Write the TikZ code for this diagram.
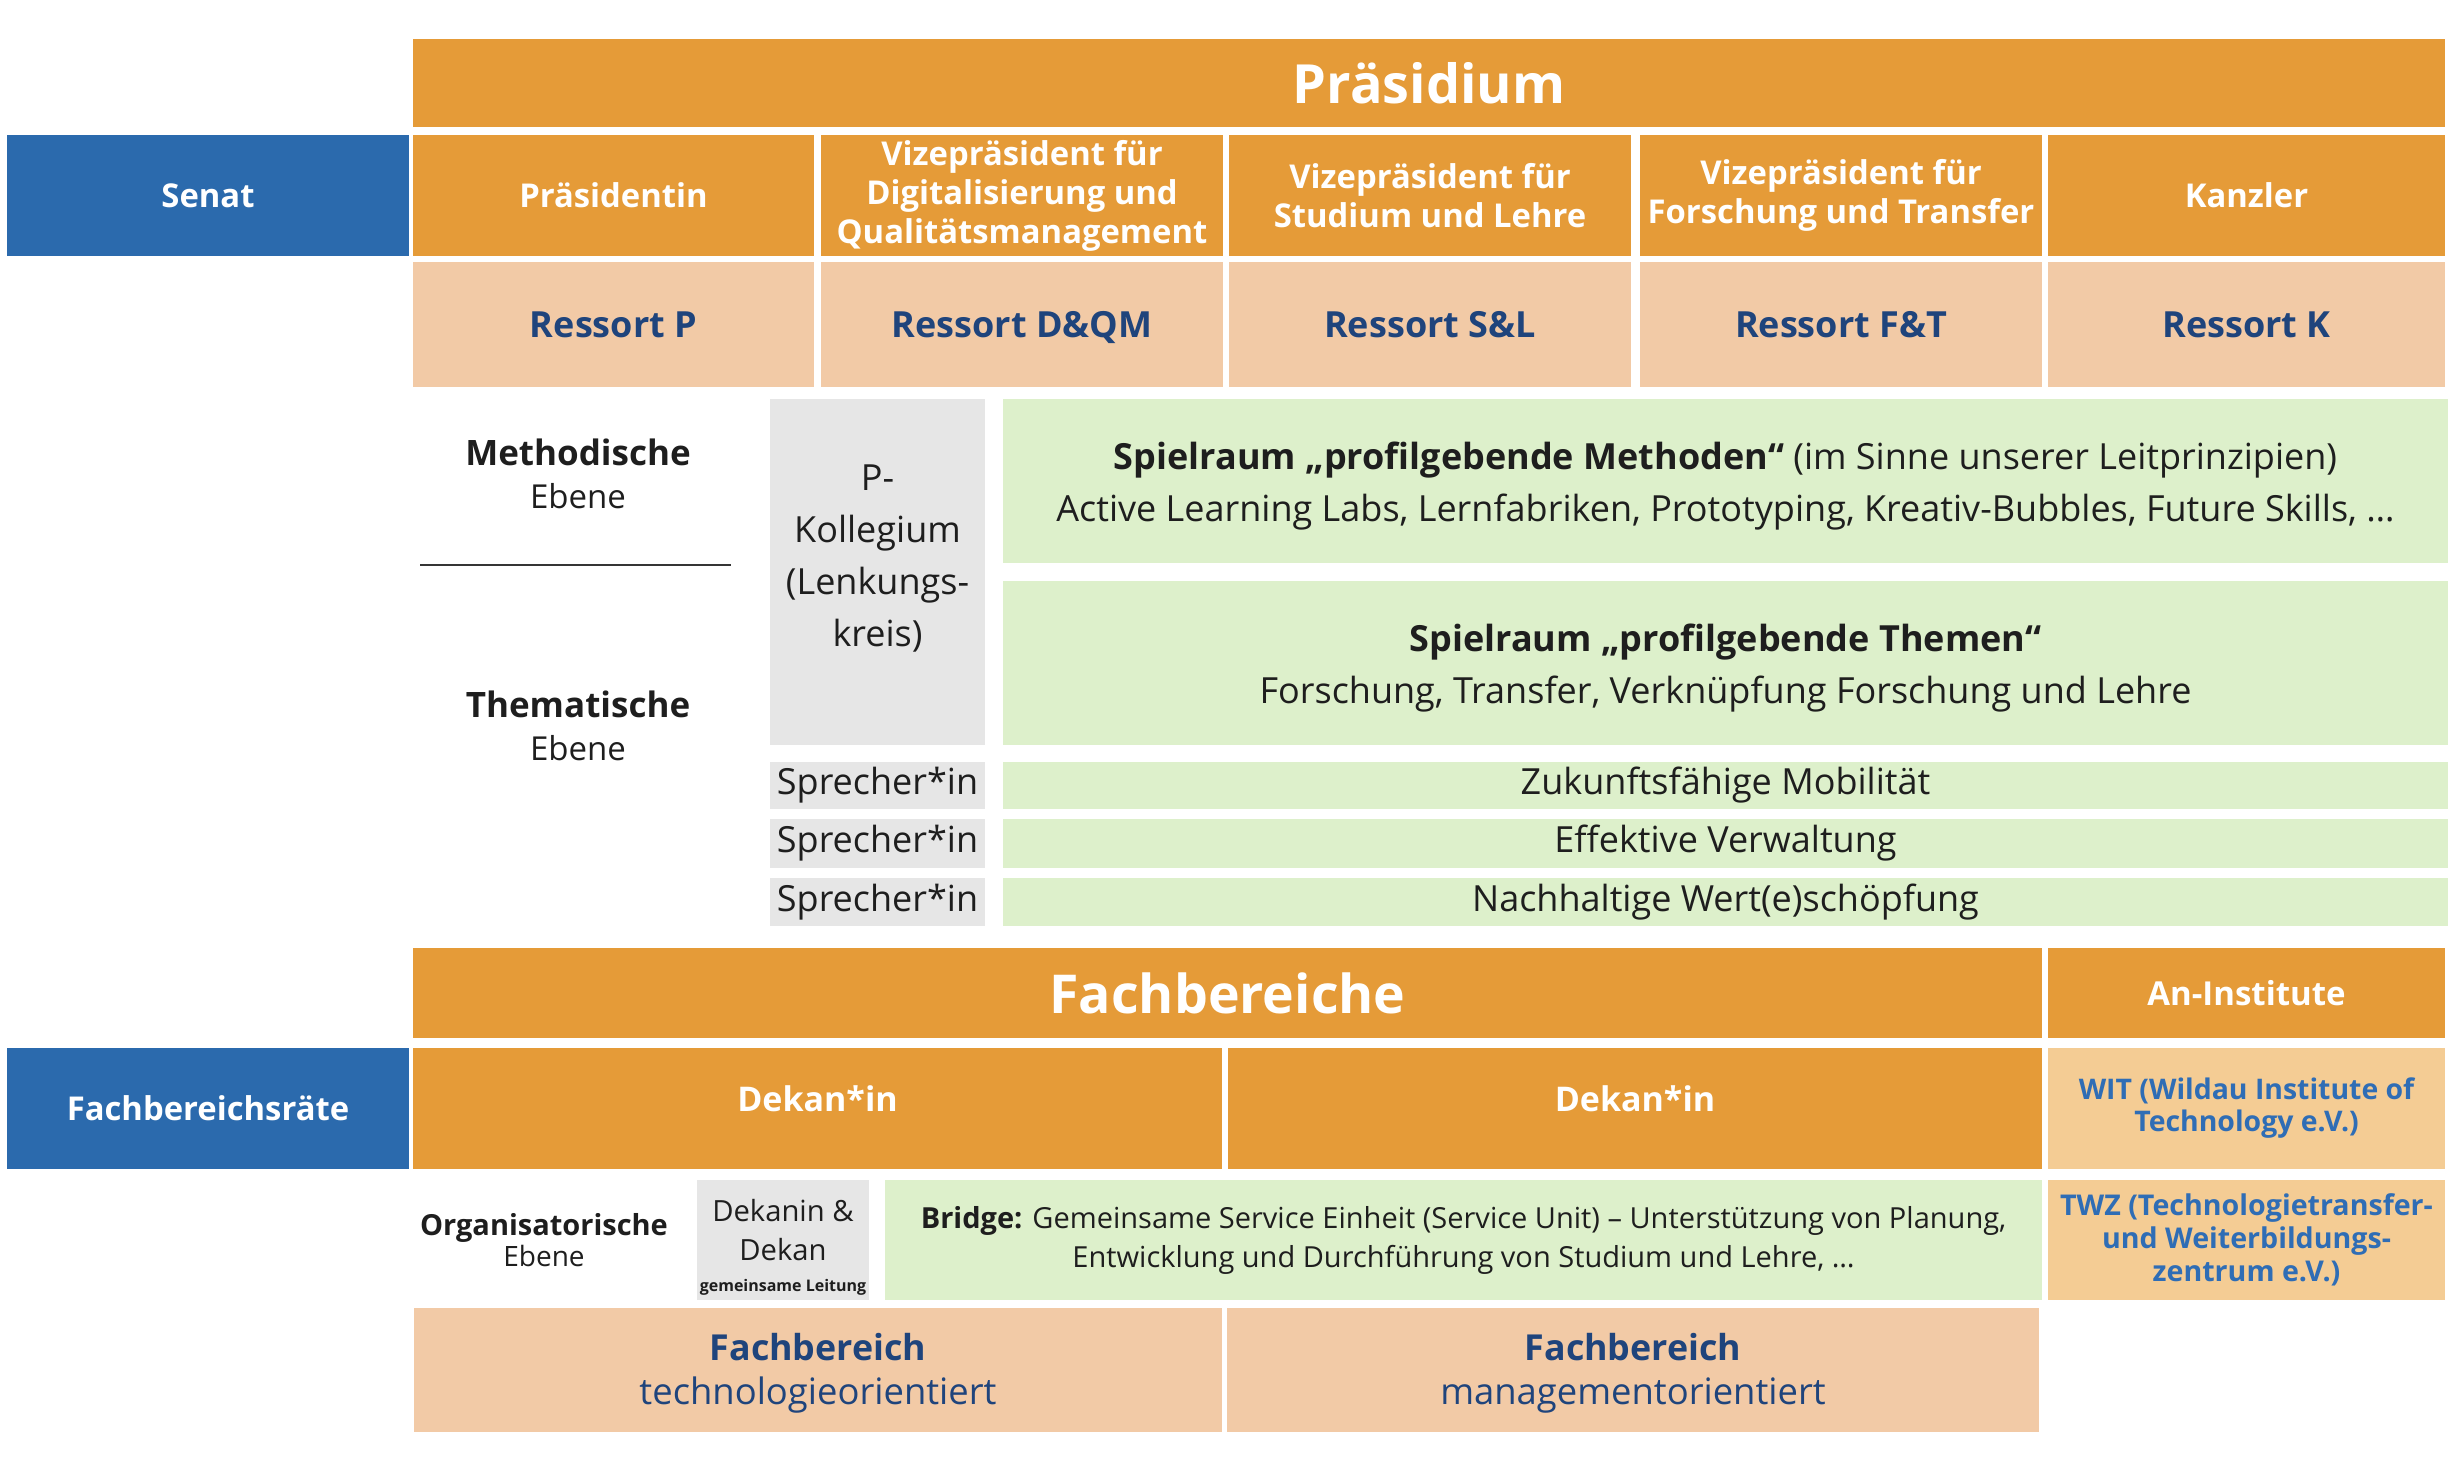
\documentclass[tikz,border=0pt]{standalone}
\usepackage{fontspec}
\setmainfont{Open Sans}
\definecolor{orng}{HTML}{E59B38}
\definecolor{senblue}{HTML}{2B6AAD}
\definecolor{salmon}{HTML}{F2CAA6}
\definecolor{lgreen}{HTML}{DDF0CB}
\definecolor{lgray}{HTML}{E6E6E6}
\definecolor{witfill}{HTML}{F4CC94}
\definecolor{navy}{HTML}{1F447C}
\definecolor{witblue}{HTML}{2F6DB5}
\definecolor{ink}{HTML}{1E1E1E}
\begin{document}
\begin{tikzpicture}[x=0.5pt,y=-0.5pt,
  cell/.style 2 args={inner sep=0pt, outer sep=0pt, align=center, minimum width=#1*0.5pt, minimum height=#2*0.5pt},
  orangebox/.style={fill=orng, text=white, font=\fontsize{16.4}{19.5}\selectfont\bfseries},
  bluebox/.style={fill=senblue, text=white, font=\fontsize{16.4}{19.5}\selectfont\bfseries},
  ressortbox/.style={fill=salmon, text=navy, font=\fontsize{18}{21}\selectfont\bfseries, text height=13.5pt, text depth=0pt},
  greenbox/.style={fill=lgreen, text=ink, font=\fontsize{18}{26}\selectfont},
  graybox/.style={fill=lgray, text=ink, font=\fontsize{18}{26}\selectfont},
  witbox/.style={fill=witfill, text=witblue, font=\fontsize{14.2}{16}\selectfont\bfseries},
  fbbox/.style={fill=salmon, text=navy, font=\fontsize{18.2}{22}\selectfont},
  level/.style={inner sep=0pt, align=center, text=ink},
  sepline/.style={line width=1.3pt, draw=ink!90}
]
\useasboundingbox (0,0) rectangle (2456,1476);

% Präsidium
\node[cell={2032}{88}, orangebox, font=\fontsize{27}{30}\selectfont\bfseries] (praes) at (1429,83) {Präsidium};

% row 2
\node[cell={402}{121}, bluebox] (senat) at (208,195.5) {Senat};
\node[cell={401}{121}, orangebox] (pin) at (613.5,195.5) {Präsidentin};
\node[cell={402}{121}, orangebox] (vpd) at (1022,195.5) {Vizepräsident für\\Digitalisierung und\\Qualitätsmanagement};
\node[cell={402}{121}, orangebox] (vps) at (1430,195.5) {Vizepräsident für\\Studium und Lehre};
\node[cell={402}{121}, orangebox] (vpf) at (1841,195.5) {Vizepräsident für\\Forschung und Transfer};
\node[cell={397}{121}, orangebox] (kanz) at (2246.5,195.5) {Kanzler};

% Ressorts
\node[cell={401}{125}, ressortbox] (rp) at (613.5,324.5) {Ressort P};
\node[cell={402}{125}, ressortbox] (rd) at (1022,324.5) {Ressort D\&QM};
\node[cell={402}{125}, ressortbox] (rs) at (1430,324.5) {Ressort S\&L};
\node[cell={402}{125}, ressortbox] (rf) at (1841,324.5) {Ressort F\&T};
\node[cell={397}{125}, ressortbox] (rk) at (2246.5,324.5) {Ressort K};

% levels
\node[level, font=\fontsize{17.5}{21.5}\selectfont] (meth) at (578,474) {\textbf{Methodische}\\{\fontsize{16.5}{21.5}\selectfont Ebene}};
\coordinate (sepL) at (420,565);
\coordinate (sepR) at (731,565);
\draw[sepline] (sepL) -- (sepR);
\node[level, font=\fontsize{17.5}{21.5}\selectfont] (them) at (578,726) {\textbf{Thematische}\\{\fontsize{16.5}{21.5}\selectfont Ebene}};

% P-Kollegium and Spielräume
\node[cell={215}{346}, graybox] (pkol) at (877.5,572) {};
\node[level, font=\fontsize{18}{26}\selectfont] (pkoltext) at (877.5,558) {P-\\Kollegium\\(Lenkungs-\\kreis)};
\node[cell={1445}{164}, greenbox] (spm) at (1725.5,481) {};
\node[level, font=\fontsize{18}{26}\selectfont] (spmtext) at (1725.5,486) {\textbf{Spielraum „profilgebende Methoden“} (im Sinne unserer Leitprinzipien)\\Active Learning Labs, Lernfabriken, Prototyping, Kreativ-Bubbles, Future Skills, \dots};
\node[cell={1445}{164}, greenbox] (spt) at (1725.5,663) {};
\node[level, font=\fontsize{18}{26}\selectfont] (spttext) at (1725.5,668) {\textbf{Spielraum „profilgebende Themen“}\\Forschung, Transfer, Verknüpfung Forschung und Lehre};

\node[cell={215}{47}, graybox] (sp1) at (877.5,785.5) {Sprecher*in};
\node[cell={215}{49}, graybox] (sp2) at (877.5,843.5) {Sprecher*in};
\node[cell={215}{48}, graybox] (sp3) at (877.5,902) {Sprecher*in};
\node[cell={1445}{47}, greenbox] (th1) at (1725.5,785.5) {Zukunftsfähige Mobilität};
\node[cell={1445}{49}, greenbox] (th2) at (1725.5,843.5) {Effektive Verwaltung};
\node[cell={1445}{48}, greenbox] (th3) at (1725.5,902) {Nachhaltige Wert(e)schöpfung};

% Fachbereiche
\node[cell={1629}{90}, orangebox, font=\fontsize{26.8}{30}\selectfont\bfseries] (fbs) at (1227.5,993) {Fachbereiche};
\node[cell={397}{90}, orangebox, font=\fontsize{16.5}{19}\selectfont\bfseries] (anin) at (2246.5,993) {An-Institute};

\node[cell={402}{121}, bluebox] (fbr) at (208,1108.5) {Fachbereichsräte};
\node[cell={809}{121}, orangebox, font=\fontsize{17}{21}\selectfont\bfseries, text height=12pt, text depth=9pt] (dek1) at (817.5,1108.5) {Dekan*in};
\node[cell={814}{121}, orangebox, font=\fontsize{17}{21}\selectfont\bfseries, text height=12pt, text depth=9pt] (dek2) at (1635,1108.5) {Dekan*in};
\node[cell={397}{121}, witbox] (wit) at (2246.5,1108.5) {WIT (Wildau Institute of\\Technology e.V.)};

\node[level, font=\fontsize{14.5}{15.5}\selectfont] (orga) at (544,1240) {\textbf{Organisatorische}\\{\fontsize{14}{15.5}\selectfont Ebene}};
\node[cell={172}{120}, graybox] (dd) at (783,1240) {};
\node[level, font=\fontsize{14.6}{19.5}\selectfont] (ddtext) at (783,1247) {Dekanin \&\\Dekan\\[-4pt]{\fontsize{8}{9}\selectfont\bfseries gemeinsame Leitung}};
\node[cell={1157}{120}, greenbox, font=\fontsize{14.5}{19.5}\selectfont] (bridge) at (1463.5,1240) {\textbf{Bridge:} Gemeinsame Service Einheit (Service Unit) – Unterstützung von Planung,\\Entwicklung und Durchführung von Studium und Lehre, \dots};
\node[cell={397}{120}, witbox, font=\fontsize{14.3}{16.5}\selectfont\bfseries] (twz) at (2246.5,1240) {TWZ (Technologietransfer-\\und Weiterbildungs-\\zentrum e.V.)};

\node[cell={808}{124}, fbbox] (fb1) at (818,1370) {};
\node[level, text=navy, font=\fontsize{18.2}{22}\selectfont] (fb1text) at (818,1373) {{\fontsize{17.9}{22}\selectfont\bfseries Fachbereich}\\technologieorientiert};
\node[cell={812}{124}, fbbox] (fb2) at (1633,1370) {};
\node[level, text=navy, font=\fontsize{18.2}{22}\selectfont] (fb2text) at (1633,1373) {{\fontsize{17.9}{22}\selectfont\bfseries Fachbereich}\\managementorientiert};
\end{tikzpicture}
\end{document}
